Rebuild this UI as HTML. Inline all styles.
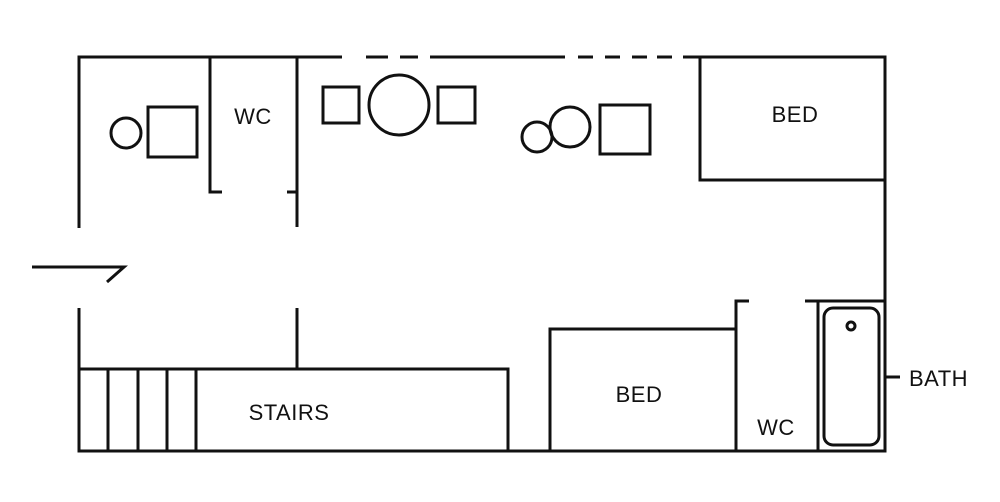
<!DOCTYPE html>
<html><head><style>body{margin:0;background:#fff}svg{display:block}text{font-family:"Liberation Sans",sans-serif;font-size:22px;fill:#111;letter-spacing:0.5px}</style></head><body>
<svg width="1000" height="502" viewBox="0 0 1000 502" xmlns="http://www.w3.org/2000/svg">
<g stroke="#111" stroke-width="3" fill="none" stroke-linecap="butt">
<path d="M79 228V57H342M366 57H388M400 57H418M430 57H565M578 57H593M605 57H620M632 57H647M657 57H672M683 57H885V451H79V308"/>
<path d="M210 57V192H222M297 57V227M287 192H297M297 308V369"/>
<path d="M32 267H124L107 282"/>
<path d="M79 369H508V451M108 369V451M138 369V451M167 369V451M196 369V451"/>
<rect x="700" y="57" width="185" height="123"/>
<rect x="550" y="329" width="186" height="122"/>
<path d="M736 451V301H749M805 301H885M818 301V451M885 377H900"/>
<rect x="824" y="308" width="55" height="137" rx="9"/>
<circle cx="851" cy="326" r="4"/>
<circle cx="126" cy="133" r="15"/>
<rect x="148" y="107" width="49" height="50"/>
<rect x="323" y="87" width="36" height="36"/>
<circle cx="399" cy="105" r="30"/>
<rect x="438" y="87" width="37" height="36"/>
<circle cx="537" cy="137" r="15"/>
<circle cx="570" cy="127" r="20"/>
<rect x="600" y="105" width="50" height="49"/>
</g>
<text x="253" y="124" text-anchor="middle">WC</text>
<text x="289" y="420" text-anchor="middle">STAIRS</text>
<text x="795" y="122" text-anchor="middle">BED</text>
<text x="639" y="402" text-anchor="middle">BED</text>
<text x="776" y="435" text-anchor="middle">WC</text>
<text x="909" y="386">BATH</text>
</svg>
</body></html>
